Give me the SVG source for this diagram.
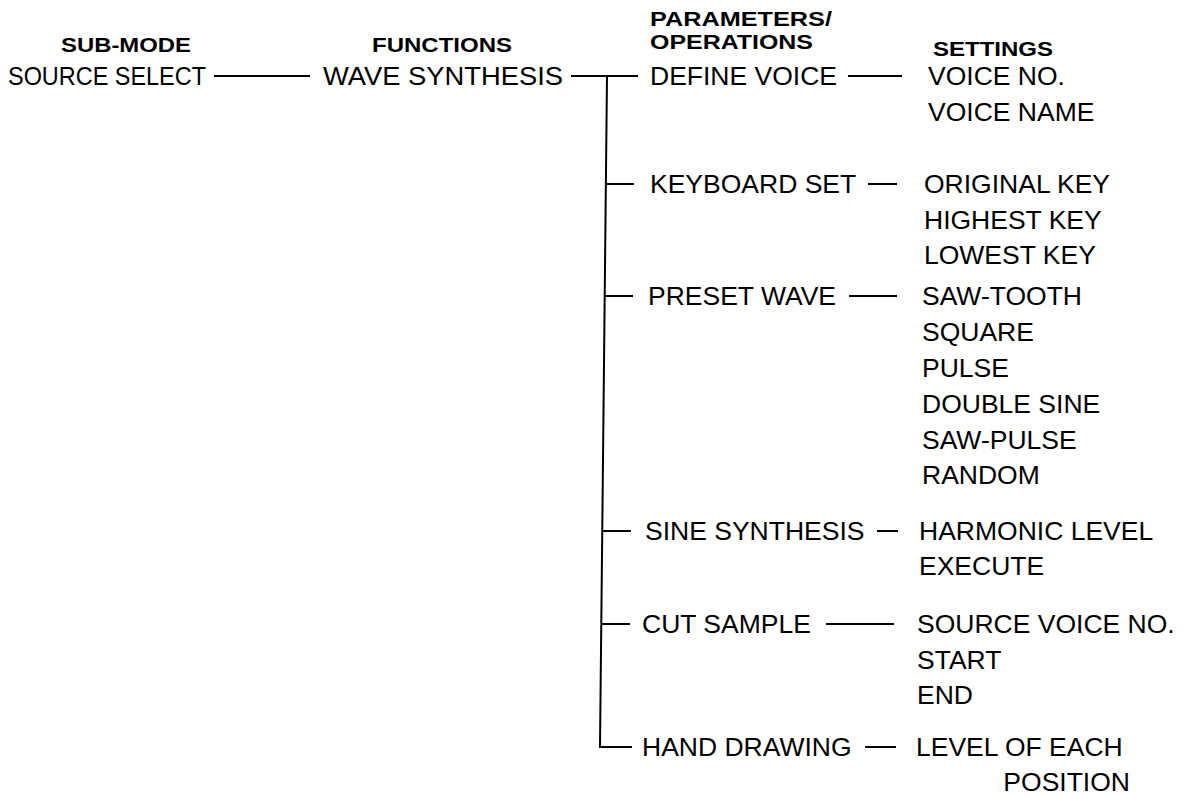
<svg xmlns="http://www.w3.org/2000/svg" width="1186" height="798" viewBox="0 0 1186 798">
<style>
.t{font-family:"Liberation Sans",Arial,sans-serif;font-size:26.5px;fill:#000}
.h{font-family:"Liberation Sans",Arial,sans-serif;font-size:20px;font-weight:bold;fill:#000}
.c{stroke:#000;stroke-width:2;fill:none}
</style>
<rect width="1186" height="798" fill="#fff"/>
<g id="headers">
<text class="h" x="61" y="52" textLength="130" lengthAdjust="spacingAndGlyphs">SUB-MODE</text>
<text class="h" x="372" y="52" textLength="140" lengthAdjust="spacingAndGlyphs">FUNCTIONS</text>
<text class="h" x="650" y="26" textLength="182" lengthAdjust="spacingAndGlyphs">PARAMETERS/</text>
<text class="h" x="650" y="49" textLength="163" lengthAdjust="spacingAndGlyphs">OPERATIONS</text>
<text class="h" x="933" y="56" textLength="120" lengthAdjust="spacingAndGlyphs">SETTINGS</text>
</g>
<g id="connectors">
<line class="c" x1="214" y1="76" x2="310" y2="76"/>
<line class="c" x1="571" y1="76" x2="638" y2="76"/>
<path class="c" d="M607 76 L600 747 L632 747"/>
<line class="c" x1="606" y1="184" x2="634" y2="184"/>
<line class="c" x1="605" y1="296" x2="633" y2="296"/>
<line class="c" x1="602" y1="531" x2="631" y2="531"/>
<line class="c" x1="601" y1="624" x2="630" y2="624"/>
<line class="c" x1="848" y1="76" x2="902" y2="76"/>
<line class="c" x1="868" y1="184" x2="897" y2="184"/>
<line class="c" x1="849" y1="296" x2="897" y2="296"/>
<line class="c" x1="877" y1="531" x2="898" y2="531"/>
<line class="c" x1="826" y1="624" x2="894" y2="624"/>
<line class="c" x1="865" y1="747" x2="896" y2="747"/>
</g>
<g id="source-select"><text class="t" x="8" y="85" textLength="198" lengthAdjust="spacingAndGlyphs">SOURCE SELECT</text></g>
<g id="wave-synthesis"><text class="t" x="323" y="85" textLength="240" lengthAdjust="spacingAndGlyphs">WAVE SYNTHESIS</text></g>
<g id="define-voice"><text class="t" x="650" y="85">DEFINE VOICE</text></g>
<g id="keyboard-set"><text class="t" x="650" y="193">KEYBOARD SET</text></g>
<g id="preset-wave"><text class="t" x="648" y="305">PRESET WAVE</text></g>
<g id="sine-synthesis"><text class="t" x="645" y="540">SINE SYNTHESIS</text></g>
<g id="cut-sample"><text class="t" x="642" y="633">CUT SAMPLE</text></g>
<g id="hand-drawing"><text class="t" x="642" y="756">HAND DRAWING</text></g>
<g id="set-define-voice">
<text class="t" x="928" y="85">VOICE NO.</text>
<text class="t" x="928" y="121">VOICE NAME</text>
</g>
<g id="set-keyboard-set">
<text class="t" x="924" y="193">ORIGINAL KEY</text>
<text class="t" x="924" y="229">HIGHEST KEY</text>
<text class="t" x="924" y="264">LOWEST KEY</text>
</g>
<g id="set-preset-wave">
<text class="t" x="922" y="305">SAW-TOOTH</text>
<text class="t" x="922" y="341">SQUARE</text>
<text class="t" x="922" y="377">PULSE</text>
<text class="t" x="922" y="413">DOUBLE SINE</text>
<text class="t" x="922" y="449">SAW-PULSE</text>
<text class="t" x="922" y="484">RANDOM</text>
</g>
<g id="set-sine-synthesis">
<text class="t" x="919" y="540">HARMONIC LEVEL</text>
<text class="t" x="919" y="575">EXECUTE</text>
</g>
<g id="set-cut-sample">
<text class="t" x="917" y="633">SOURCE VOICE NO.</text>
<text class="t" x="917" y="669">START</text>
<text class="t" x="917" y="704">END</text>
</g>
<g id="set-hand-drawing">
<text class="t" x="916" y="756">LEVEL OF EACH</text>
<text class="t" x="1130" y="791" text-anchor="end">POSITION</text>
</g>
</svg>
